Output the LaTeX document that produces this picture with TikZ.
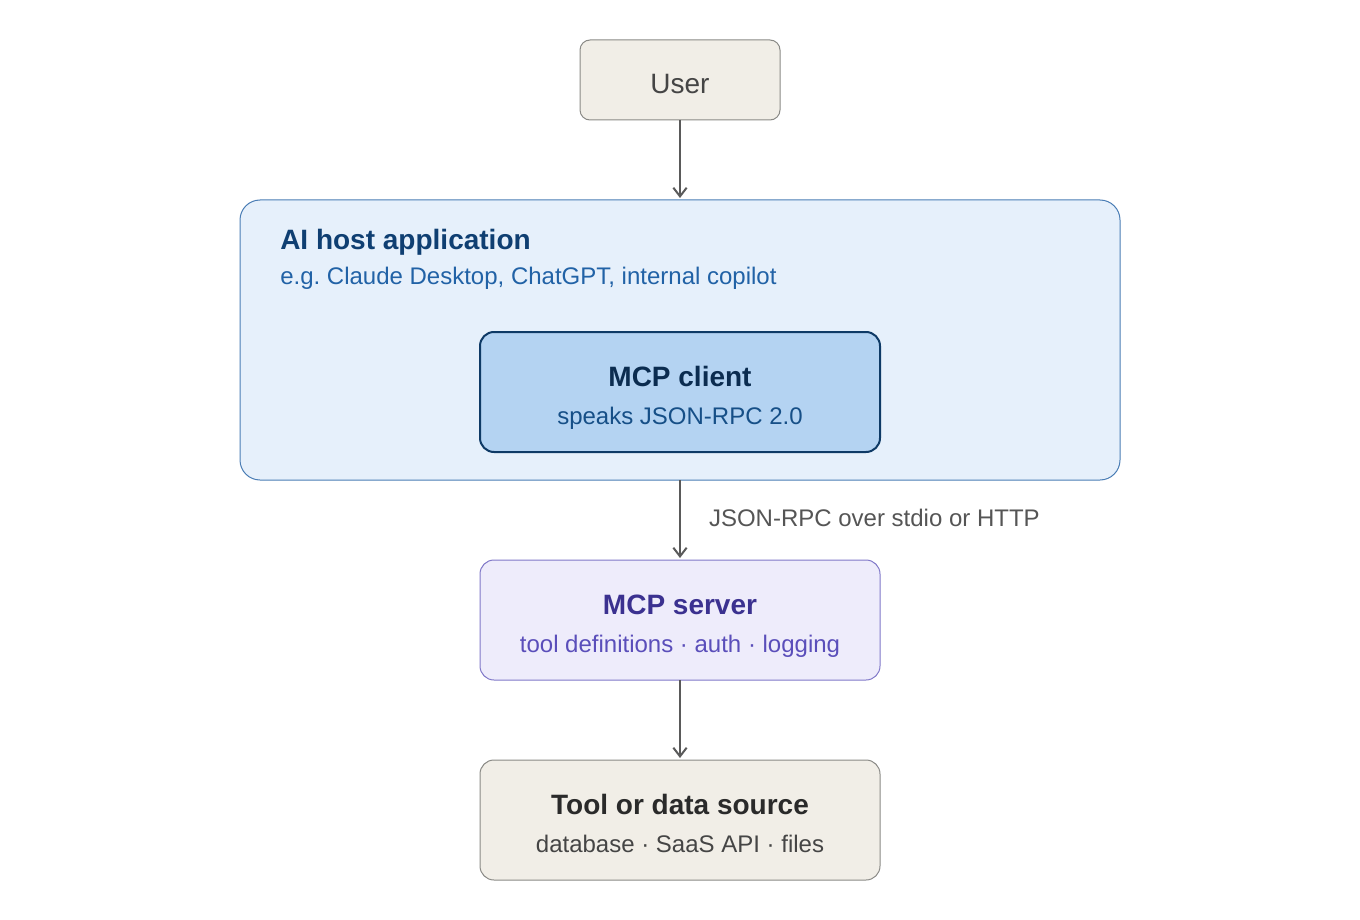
\documentclass[tikz,border=0pt]{standalone}
\usepackage{fontspec}
\setmainfont{Liberation Sans}
\usepackage{tikz}
\usetikzlibrary{positioning, arrows.meta}
\usepackage{xcolor}
\definecolor{sand}{HTML}{F1EEE7}
\definecolor{sandline}{HTML}{8A8A86}
\definecolor{ink}{HTML}{2A2A2A}
\definecolor{inksoft}{HTML}{454545}
\definecolor{hostfill}{HTML}{E6F0FB}
\definecolor{hostline}{HTML}{4A7DB5}
\definecolor{hostdark}{HTML}{0F3F72}
\definecolor{hostmid}{HTML}{2162A6}
\definecolor{clientfill}{HTML}{B4D3F2}
\definecolor{clientline}{HTML}{0E3A66}
\definecolor{clientdark}{HTML}{0B2C50}
\definecolor{clientmid}{HTML}{164F87}
\definecolor{serverfill}{HTML}{EEECFB}
\definecolor{serverline}{HTML}{8078C8}
\definecolor{serverdark}{HTML}{3B3190}
\definecolor{servermid}{HTML}{5A4EBA}
\definecolor{wire}{HTML}{5A5A5A}
\definecolor{note}{HTML}{555555}

\begin{document}
\begin{tikzpicture}[
    box/.style={draw, line width=0.75pt, rounded corners=10.5pt, minimum width=300pt, minimum height=90pt, inner sep=0pt, outer sep=0pt},
    ttl/.style={font=\fontsize{21}{25}\selectfont\bfseries, inner sep=0pt, anchor=base},
    sub/.style={font=\fontsize{18}{22}\selectfont, inner sep=0pt, anchor=base},
    arr/.style={-{Straight Barb[length=6.5pt, width=10pt]}, line width=1.5pt, wire, shorten >=1.5pt},
    node distance=60pt
]
\useasboundingbox (0,0) rectangle (1020pt,-690pt);

% User
\node[box, fill=sand, draw=sandline, minimum width=150pt, minimum height=60pt, rounded corners=7.5pt,
      font=\fontsize{21}{25}\selectfont, text=inksoft, text height=20pt, text depth=0pt] (user) at (510pt,-60pt) {User};

% AI host application
\node[box, fill=hostfill, draw=hostline, minimum width=660pt, minimum height=210pt, rounded corners=15pt, below=of user] (host) {};
\node[ttl, anchor=base west, text=hostdark] (hostT) at ([xshift=30pt, yshift=-36.75pt]host.north west) {AI host application};
\node[sub, anchor=base west, text=hostmid] (hostS) at ([xshift=30pt, yshift=-63pt]host.north west) {e.g.\ Claude Desktop, ChatGPT, internal copilot};

% MCP client
\node[box, fill=clientfill, draw=clientline, line width=1.5pt] (client) at ([yshift=-39pt]host.center) {};
\node[ttl, text=clientdark] (clientT) at ([yshift=-40.5pt]client.north) {MCP client};
\node[sub, text=clientmid] (clientS) at ([yshift=-69pt]client.north) {speaks JSON-RPC 2.0};

% MCP server
\node[box, fill=serverfill, draw=serverline, below=of host] (server) {};
\node[ttl, text=serverdark] (serverT) at ([yshift=-40.5pt]server.north) {MCP server};
\node[sub, text=servermid] (serverS) at ([yshift=-69pt]server.north) {tool definitions · auth · logging};

% Tool or data source
\node[box, fill=sand, draw=sandline, below=of server] (tool) {};
\node[ttl, text=ink] (toolT) at ([yshift=-40.5pt]tool.north) {Tool or data source};
\node[sub, text=inksoft] (toolS) at ([yshift=-69pt]tool.north) {database · SaaS API · files};

% Connectors
\draw[arr] (user) -- (host);
\draw[arr] (host) -- node[right=21pt, yshift=1.5pt, inner sep=0pt, font=\fontsize{18}{22}\selectfont, text=note] (wirelabel) {JSON-RPC over stdio or HTTP} (server);
\draw[arr] (server) -- (tool);

\end{tikzpicture}
\end{document}
